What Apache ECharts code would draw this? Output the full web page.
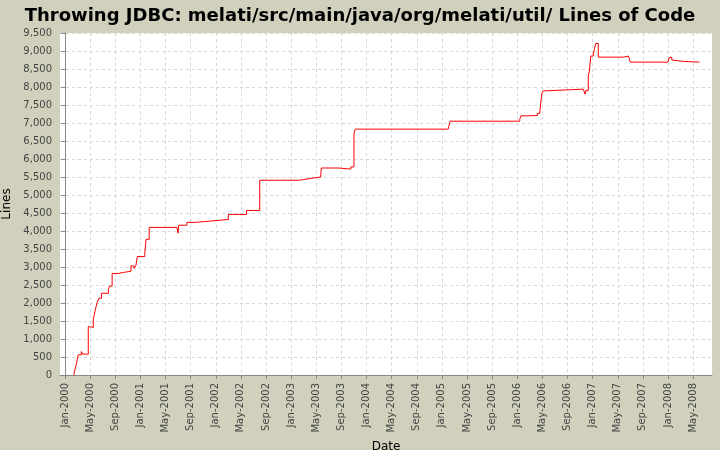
<!DOCTYPE html>
<html lang="en">
  <head>
    <meta charset="UTF-8" />
    <title>Lines of Code</title>
    <script src="https://cdn.jsdelivr.net/npm/echarts@6/dist/echarts.min.js"></script>
    <style>
      body { margin: 0; background: #d0d0bc; }
    </style>
  </head>
  <body>
    <div id="main" style="width: 720px; height: 450px"></div>
    <script>
      // months counted from Jan-2000
      var months = [1.4, 1.5, 1.7, 1.8, 2.1, 2.6, 2.8, 3.7, 4.1, 4.5, 4.8, 5.1, 5.4, 5.8, 6.9, 7.1, 7.5, 8.5, 9.3,
        10.5, 11.0, 11.3, 11.5, 12.7, 12.9, 13.4, 17.8, 18.0, 18.1, 19.4, 20.8, 23.4, 26.0, 28.9, 31.0,
        37.3, 38.0, 39.0, 40.7, 40.8, 43.5, 45.5, 46.0, 46.2, 61.0, 61.3,
        72.4, 72.6, 73.9, 75.2, 75.6, 75.9, 76.1, 76.4, 82.5, 82.8, 82.9, 83.3, 83.5, 83.7, 84.1, 84.3, 84.5, 84.9,
        89.0, 89.7, 89.8, 90.0, 96.0, 96.2, 96.6, 96.9, 98.5, 101.0];
      var lines = [0, 100, 230, 300, 560, 650, 580, 1340, 1320, 1550, 1790, 2010, 2130, 2270, 2380, 2470, 2820, 2850, 2880,
        3030, 2960, 3050, 3290, 3400, 3770, 4100, 4140, 3940, 4160, 4240, 4280, 4320, 4460, 4570, 5410,
        5430, 5460, 5500, 5550, 5750, 5720, 5780, 6700, 6830, 6830, 7050,
        7110, 7200, 7210, 7270, 7340, 7810, 7890, 7940, 7890, 7800, 7900, 8300, 8470, 8860, 8920, 9070, 9210, 8830,
        8860, 8890, 8820, 8690, 8690, 8820, 8750, 8710, 8690, 8690];
      var monthNames = ['Jan', 'Feb', 'Mar', 'Apr', 'May', 'Jun', 'Jul', 'Aug', 'Sep', 'Oct', 'Nov', 'Dec'];
      var tickMonths = [];
      for (var t = 0; t <= 100; t += 4) tickMonths.push(t);

      var data = [];
      for (var i = 0; i < months.length; i++) data.push([months[i], lines[i]]);

      var chart = echarts.init(document.getElementById('main'));
      chart.setOption({
        backgroundColor: '#d0d0bc',
        animation: false,
        title: {
          text: 'Throwing JDBC: melati/src/main/java/org/melati/util/ Lines of Code',
          left: 'center',
          top: 2,
          textStyle: { fontFamily: 'DejaVu Sans', fontSize: 18, fontWeight: 'bold', color: '#000' }
        },
        grid: {
          left: 60, right: 8, top: 33, bottom: 75,
          outerBoundsMode: 'none', containLabel: false,
          show: true, backgroundColor: '#fff', borderWidth: 0
        },
        xAxis: {
          type: 'value',
          min: -0.8,
          max: 103,
          name: 'Date',
          nameLocation: 'middle',
          nameGap: 58,
          nameTextStyle: { fontFamily: 'DejaVu Sans', fontSize: 12, color: '#000' },
          axisLine: { lineStyle: { color: '#888' } },
          axisTick: { customValues: tickMonths, length: 4, lineStyle: { color: '#888' } },
          axisLabel: {
            customValues: tickMonths,
            rotate: 90,
            fontFamily: 'DejaVu Sans',
            fontSize: 10,
            color: '#444',
            formatter: function (v) {
              var m = Math.round(v);
              return monthNames[m % 12] + '-' + (2000 + Math.floor(m / 12));
            }
          },
          splitLine: { show: true, lineStyle: { color: '#d8d8d8', type: [3, 3] } }
        },
        yAxis: {
          type: 'value',
          min: 0,
          max: 9500,
          interval: 500,
          name: 'Lines',
          nameLocation: 'middle',
          nameGap: 44,
          nameTextStyle: { fontFamily: 'DejaVu Sans', fontSize: 12, color: '#000' },
          axisLine: { show: true, lineStyle: { color: '#888' } },
          axisTick: { show: true, length: 4, lineStyle: { color: '#888' } },
          axisLabel: {
            fontFamily: 'DejaVu Sans',
            fontSize: 10,
            color: '#444',
            formatter: function (v) { return v.toLocaleString('en-US'); }
          },
          splitLine: { show: true, lineStyle: { color: '#d8d8d8', type: [3, 3] } }
        },
        series: [{
          type: 'line',
          step: 'end',
          data: data,
          showSymbol: false,
          lineStyle: { color: '#ff0000', width: 1 }
        }]
      });
    </script>
  </body>
</html>
